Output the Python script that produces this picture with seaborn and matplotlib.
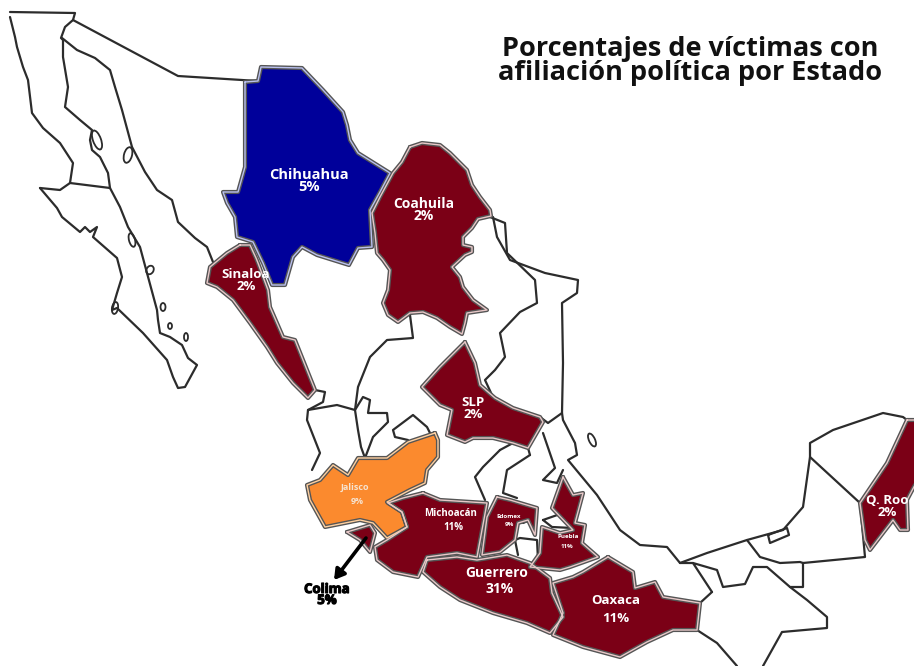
import matplotlib
matplotlib.use("Agg")
import matplotlib.pyplot as plt
import matplotlib.patheffects as pe
from matplotlib.patches import Ellipse
import seaborn as sns

TITLE = "Porcentajes de víctimas con\nafiliación política por Estado"
RED, BLUE, ORANGE = "#7b0016", "#00009a", "#fb8a2e"

chihuahua = [(245,82),(258,81),(261,67),(302,68),(323,90),(343,112),(347,125),(350,140),(358,153),(390,173),(380,192),(370,210),(372,247),(358,248),(349,265),(333,260),(317,255),(302,247),(293,257),(285,285),(272,285),(263,263),(253,242),(237,237),(235,217),(227,203),(223,192),(238,192),(245,167),(245,110)]
coahuila = [(410,147),(422,143),(440,145),(450,153),(457,160),(467,170),(472,185),(480,197),(490,210),(491,216),(478,219),(472,228),(463,237),(463,245),(472,247),(472,252),(465,255),(452,267),(460,277),(463,287),(473,300),(487,310),(467,313),(465,323),(462,334),(450,327),(437,318),(423,312),(410,313),(398,322),(388,315),(383,303),(388,290),(390,270),(383,260),(377,253),(375,233),(372,213),(380,197),(393,173),(402,162)]
sinaloa = [(240,245),(250,245),(256,258),(258,263),(268,290),(270,307),(283,337),(295,340),(303,360),(315,390),(308,398),(293,383),(277,363),(267,347),(250,323),(233,300),(217,287),(207,283),(210,267),(227,253)]
slp = [(465,342),(475,363),(480,385),(495,398),(513,408),(540,417),(543,422),(528,448),(513,443),(493,438),(473,438),(465,442),(447,435),(452,410),(440,405),(422,387),(440,367)]
jalisco = [(435,433),(438,440),(438,457),(427,470),(425,483),(410,490),(387,502),(402,512),(407,527),(387,538),(373,523),(360,520),(325,527),(310,500),(307,485),(320,480),(333,465),(348,475),(358,458),(387,458),(408,442)]
colima = [(347,532),(370,525),(375,533),(370,552),(360,540)]
michoacan = [(423,493),(440,500),(487,503),(482,530),(477,557),(457,553),(427,557),(418,577),(393,572),(377,560),(375,547),(387,540),(407,527),(402,512),(388,503),(403,498)]
edomex = [(497,497),(510,500),(537,508),(535,535),(528,520),(518,523),(515,540),(500,552),(482,555),(487,517)]
puebla = [(563,477),(573,495),(583,493),(575,523),(585,525),(582,543),(598,557),(570,567),(560,570),(530,567),(540,553),(542,527),(560,533),(573,530),(552,508)]
guerrero = [(427,560),(457,557),(477,560),(507,555),(530,563),(550,578),(552,593),(563,617),(550,633),(527,623),(493,613),(460,600),(440,587),(423,572)]
oaxaca = [(608,557),(633,572),(635,588),(655,582),(663,597),(700,603),(697,630),(673,630),(647,642),(620,657),(583,647),(553,635),(563,613),(553,583),(573,577),(583,572)]
qroo = [(907,420),(916,420),(916,483),(907,500),(908,530),(900,530),(893,520),(883,533),(870,550),(865,540),(860,503),(887,463)]

filled_states = [(chihuahua, BLUE, "#b9c0ee"), (coahuila, RED, "#e8c8c8"), (sinaloa, RED, "#e8c8c8"), (slp, RED, "#e8c8c8"),
                 (jalisco, ORANGE, "#ffd0a0"), (colima, RED, "#e8c8c8"), (michoacan, RED, "#e8c8c8"), (edomex, RED, "#e8c8c8"),
                 (puebla, RED, "#e8c8c8"), (guerrero, RED, "#e8c8c8"), (oaxaca, RED, "#e8c8c8"), (qroo, RED, "#e8c8c8")]

outlines = [
    [(10,17),(15,37),(17,47),(23,67),(28,80),(32,113),(43,128),(60,143),(73,163),(70,183),(110,188),(108,173),(100,157),(92,150),(90,140),(92,130),(80,120),(65,107),(68,87),(63,57),(63,40),(61,38),(65,27),(73,20),(75,13),(10,12)],
    [(40,188),(57,208),(62,217),(80,232),(85,227),(90,232),(97,227),(93,237),(117,258),(122,277),(117,293),(112,310),(117,308),(143,333),(167,360),(173,377),(178,388),(185,387),(197,365),(188,358),(182,345),(170,337),(160,333),(158,320),(157,310),(147,273),(140,247),(128,227),(120,207),(110,188)],
    [(70,183),(60,190),(40,188)],
    [(73,20),(178,76),(258,81)],
    [(62,38),(77,50),(95,58),(110,70),(115,87),(122,110),(132,147),(145,172),(157,190),(172,200),(178,222),(195,238),(207,247),(213,262)],
    [(410,315),(413,338),(387,340),(370,357),(358,387),(355,410),(358,430),(361,447),(365,458)],
    [(315,390),(325,392),(323,402),(308,410),(307,420),(320,453),(312,470)],
    [(308,410),(337,405),(355,410),(363,397),(370,400),(368,413),(387,413),(388,422),(373,437),(365,458)],
    [(408,440),(395,437),(393,430),(413,415),(427,427),(430,433)],
    [(490,217),(505,223),(507,253),(535,280),(537,303),(520,312),(500,333),(505,357),(495,370),(485,380),(492,395)],
    [(493,217),(497,237),(510,260),(545,273),(578,280),(577,293),(562,303),(563,363),(562,413),(548,423),(540,417)],
    [(562,413),(563,420),(575,443),(577,455),(568,460),(597,495),(620,530),(640,545),(667,547),(680,563),(707,553),(747,540),(783,530),(803,507),(810,457),(810,443),(833,430),(883,413),(903,417),(907,420)],
    [(810,457),(860,503)],
    [(860,503),(865,557),(803,563),(803,587),(790,587),(767,567),(753,567),(745,584),(723,587),(717,570),(693,563),(712,592)],
    [(747,540),(760,557),(780,563),(800,562),(803,563)],
    [(693,563),(680,563)],
    [(700,603),(712,592)],
    [(790,587),(807,600),(827,617),(827,628),(782,632),(763,666)],
    [(697,630),(717,643),(737,666)],
    [(500,450),(483,467),(475,477),(485,500)],
    [(530,455),(507,470),(503,493),(517,498)],
    [(543,433),(555,468),(543,480),(557,483),(563,470)],
    [(513,443),(500,450)],
    [(528,448),(530,455)],
    [(515,540),(520,538),(537,540),(538,560)],
    [(518,555),(515,540)],
    [(523,523),(530,520),(535,535)],
    [(543,520),(563,513),(573,528),(552,527),(543,520)],
    [(768,535),(787,528),(789,535),(770,543),(768,535)],
]

islands_x = [97, 128, 132, 150, 163, 170, 186, 115, 592, 576]
islands_y = [140, 155, 240, 270, 307, 326, 337, 308, 440, 505]
islands_w = [8, 8, 6, 7, 5, 4, 4, 6, 6, 4]
islands_h = [20, 16, 14, 9, 8, 6, 8, 12, 14, 4]
islands_a = [-20, 15, -15, 30, 0, 0, 0, 10, -25, 0]

labels = [
    ("Chihuahua\n5%", 309, 181, 10.5, "white"), ("Coahuila\n2%", 424, 210, 10, "white"),
    ("Sinaloa\n2%", 246, 280, 9.5, "white"), ("SLP\n2%", 473, 409, 9.5, "white"),
    ("Jalisco", 355, 487, 6.5, "#f6e3d0"), ("9%", 357, 501, 6.5, "#f6e3d0"),
    ("Michoacán", 451, 513, 7, "white"), ("11%", 453, 527, 7, "white"),
    ("Edomex", 509, 516, 4.5, "white"), ("9%", 509, 525, 4.5, "white"),
    ("Puebla", 568, 537, 4.5, "white"), ("11%", 567, 546, 4.5, "white"),
    ("Guerrero", 497, 573, 10, "white"), ("31%", 500, 589, 10, "white"),
    ("Oaxaca", 616, 600, 9.5, "white"), ("11%", 616, 619, 9.5, "white"),
    ("Q. Roo\n2%", 887, 507, 9.5, "white"),
]

sns.set_theme(style="white")
plt.rcParams["font.family"] = ["Open Sans", "DejaVu Sans"]
fig = plt.figure(figsize=(9.14, 6.66), dpi=100)
ax = fig.add_axes([0, 0, 1, 1])

def stroke(points, color, width):
    sns.lineplot(x=[p[0] for p in points], y=[p[1] for p in points], sort=False, estimator=None,
                 color=color, linewidth=width, ax=ax, legend=False,
                 solid_joinstyle="round", solid_capstyle="round")

for line in outlines:
    stroke(line, "#2c2c2c", 1.6)
for x, y, w, h, a in zip(islands_x, islands_y, islands_w, islands_h, islands_a):
    ax.add_patch(Ellipse((x, y), w, h, angle=a, fc="white", ec="#2c2c2c", lw=1.3))
for poly, fill, edge in filled_states:
    closed = poly + poly[:1]
    ax.fill([p[0] for p in poly], [p[1] for p in poly], color=fill, lw=0, zorder=3)
    ax.plot([p[0] for p in closed], [p[1] for p in closed], color="#555555", lw=3, zorder=3.1, solid_joinstyle="round")
    ax.plot([p[0] for p in closed], [p[1] for p in closed], color=edge, lw=1, zorder=3.2, solid_joinstyle="round")

for text, x, y, size, color in labels:
    ax.text(x, y, text, ha="center", va="center", fontsize=size, color=color, fontweight="bold",
            linespacing=0.9, zorder=5)

ax.text(690, 61, TITLE, ha="center", va="center", fontsize=19.5, fontweight="bold", color="#111111",
        linespacing=0.9, zorder=5)
ax.annotate("", xy=(334, 580), xytext=(366, 538), zorder=6,
            arrowprops=dict(arrowstyle="-|>,head_width=0.3,head_length=0.5", color="black", lw=2.6, shrinkA=0, shrinkB=0))
ax.text(327, 595, "Colima\n5%", ha="center", va="center", fontsize=9.5, fontweight="bold", color="black",
        linespacing=0.8, zorder=6, path_effects=[pe.withStroke(linewidth=0.8, foreground="black")])

ax.set_xlim(0, 914)
ax.set_ylim(666, 0)
ax.axis("off")
fig.savefig("out.png", dpi=100, facecolor="white")
